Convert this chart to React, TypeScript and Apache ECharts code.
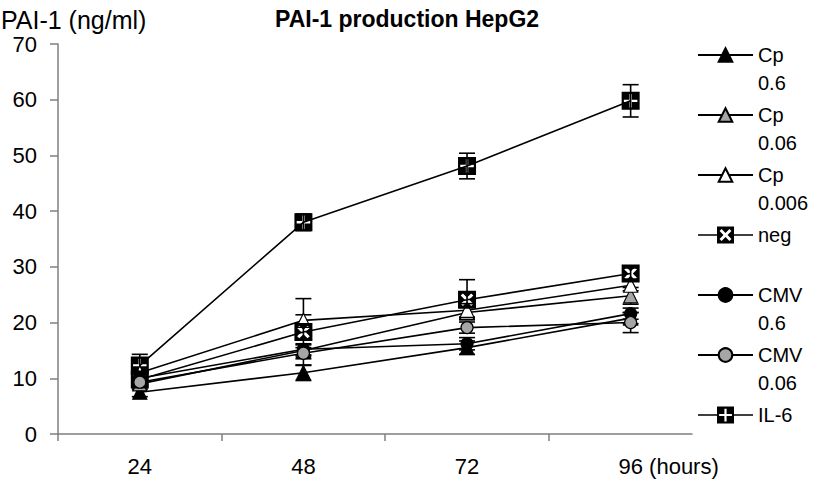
import React, { useEffect, useRef } from 'react';
import * as echarts from 'echarts';

// ---- data ----
const hours = [24, 48, 72, 96];
const yTicks = [0, 10, 20, 30, 40, 50, 60, 70];
const seriesNames = ['Cp 0.6', 'Cp 0.06', 'Cp 0.006', 'neg', 'CMV 0.6', 'CMV 0.06', 'IL-6'];

const cp06 = [7.5, 11, 15.5, 20.8];
const cp006 = [9, 15, 21.8, 24.8];
const cp0006 = [11, 20.4, 22.2, 26.7];
const neg = [9.8, 18.3, 24.1, 28.8];
const cmv06 = [10, 15.2, 16.2, 21.6];
const cmv006 = [9.3, 14.5, 19.1, 20];
const il6 = [12.3, 38, 48.1, 59.8];

const cp06Err = [0.8, 1.4, 1.2, 1];
const cp006Err = [1, 1, 1, 1.5];
const cp0006Err = [1, 1, 1.2, 1];
const negErr = [1, 6, 3.6, 1];
const cmv06Err = [0.8, 1, 1.1, 1];
const cmv006Err = [0.8, 1, 1, 1.8];
const il6Err = [2, 1.5, 2.3, 2.9];

const allValues = [cp06, cp006, cp0006, neg, cmv06, cmv006, il6];
const allErrors = [cp06Err, cp006Err, cp0006Err, negErr, cmv06Err, cmv006Err, il6Err];

// ---- symbols (20x20 unit square with a white cut-out) ----
const d = 2.4;
const xHole = [
  [3 + d, 3], [10, 10 - d], [17 - d, 3], [17, 3 + d], [10 + d, 10], [17, 17 - d],
  [17 - d, 17], [10, 10 + d], [3 + d, 17], [3, 17 - d], [10 - d, 10], [3, 3 + d],
].reverse();
const a = 1.3;
const plusHole = [
  [10 - a, 2.5], [10 + a, 2.5], [10 + a, 10 - a], [17.5, 10 - a], [17.5, 10 + a], [10 + a, 10 + a],
  [10 + a, 17.5], [10 - a, 17.5], [10 - a, 10 + a], [2.5, 10 + a], [2.5, 10 - a], [10 - a, 10 - a],
].reverse();
const poly = (pts: number[][], sx = 1, ox = 0) =>
  'M' + pts.map((p) => +(p[0] * sx + ox).toFixed(2) + ' ' + +(p[1] * sx).toFixed(2)).join(' L') + ' Z';
const squareX = 'path://M0 0 L20 0 L20 20 L0 20 Z ' + poly(xHole);
const squarePlus = 'path://M0 0 L20 0 L20 20 L0 20 Z ' + poly(plusHole);

// legend icons: line + 17px square with cut-out, in a 55x17 box
const legendIcon = (hole: number[][]) =>
  'path://M0 7.7 L19 7.7 L19 9.3 L0 9.3 Z M36 7.7 L55 7.7 L55 9.3 L36 9.3 Z M19 0 L36 0 L36 17 L19 17 Z ' +
  poly(hole, 17 / 20, 19);

const FONT = '"Liberation Sans", Arial, sans-serif';

const markerStyles = [
  { symbol: 'triangle', size: 14, fill: '#000000', border: 1.2 },
  { symbol: 'triangle', size: 14, fill: '#a6a6a6', border: 1.2 },
  { symbol: 'triangle', size: 14, fill: '#ffffff', border: 1.2 },
  { symbol: squareX, size: 18, fill: '#000000', border: 0, icon: legendIcon(xHole) },
  { symbol: 'circle', size: 12, fill: '#000000', border: 1.2 },
  { symbol: 'circle', size: 12, fill: '#a6a6a6', border: 1.2 },
  { symbol: squarePlus, size: 18, fill: '#000000', border: 0, icon: legendIcon(plusHole) },
];

export default function App() {
  const ref = useRef<HTMLDivElement>(null);

  useEffect(() => {
    if (!ref.current) return;
    const chart = echarts.init(ref.current, null, { renderer: 'svg' });

    const lineSeries = seriesNames.map((name, i) => ({
      type: 'line',
      name,
      data: hours.map((h, j) => [h, allValues[i][j]]),
      symbol: markerStyles[i].symbol,
      symbolSize: markerStyles[i].size,
      showSymbol: true,
      z: 3,
      lineStyle: { color: '#000', width: 1.6 },
      itemStyle: {
        color: markerStyles[i].fill,
        borderColor: '#000',
        borderWidth: markerStyles[i].border,
        opacity: 1,
      },
      emphasis: { disabled: true },
    }));

    const errSeries = seriesNames.map((name, i) => ({
      type: 'custom',
      name: 'err-' + name,
      z: 2,
      data: hours.map((h, j) => [h, allValues[i][j], allErrors[i][j]]),
      encode: { x: 0, y: 1 },
      renderItem: (params: any, api: any) => {
        const x = api.value(0);
        const v = api.value(1);
        const e = api.value(2);
        const top = api.coord([x, v + e]);
        const bot = api.coord([x, v - e]);
        const w = 8;
        const st = { stroke: '#000', lineWidth: 1.6 };
        return {
          type: 'group',
          children: [
            { type: 'line', shape: { x1: top[0], y1: top[1], x2: bot[0], y2: bot[1] }, style: st },
            { type: 'line', shape: { x1: top[0] - w, y1: top[1], x2: top[0] + w, y2: top[1] }, style: st },
            { type: 'line', shape: { x1: bot[0] - w, y1: bot[1], x2: bot[0] + w, y2: bot[1] }, style: st },
          ],
        };
      },
    }));

    const axisGray = '#7f7f7f';

    chart.setOption({
      animation: false,
      backgroundColor: '#ffffff',
      textStyle: { fontFamily: FONT },
      title: [
        {
          text: 'PAI-1 production HepG2',
          left: 275,
          top: 7,
          padding: 0,
          textStyle: { fontSize: 23, fontWeight: 'bold', color: '#000', fontFamily: FONT },
        },
        {
          text: 'PAI-1 (ng/ml)',
          left: 1,
          top: 7,
          padding: 0,
          textStyle: { fontSize: 25, fontWeight: 'normal', color: '#000', fontFamily: FONT },
        },
      ],
      legend: {
        orient: 'vertical',
        left: 697,
        top: 13,
        padding: 0,
        itemGap: -24,
        itemWidth: 55,
        itemHeight: 17,
        selectedMode: false,
        data: seriesNames.map((name, i) =>
          markerStyles[i].icon ? { name, icon: markerStyles[i].icon } : { name }
        ),
        formatter: (name: string) => {
          const parts = name.split(' ');
          return parts.length > 1 ? '\n' + parts[0] + '\n' + parts[1] : '\n' + name + '\n ';
        },
        textStyle: {
          fontSize: 20,
          lineHeight: 28,
          color: '#000',
          fontFamily: FONT,
        },
      },
      grid: { left: 58, right: 121, top: 44, bottom: 49 },
      xAxis: {
        type: 'value',
        min: 12,
        max: 105,
        splitLine: { show: false },
        axisLine: { show: true, lineStyle: { color: axisGray, width: 1.5 } },
        axisTick: { show: true, length: 7, lineStyle: { color: axisGray, width: 1.5 }, customValues: [12, 36, 60, 84] },
        axisLabel: {
          customValues: hours,
          margin: 21,
          fontSize: 22,
          color: '#000',
          fontFamily: FONT,
          formatter: (v: number) => (v === 96 ? '{n|96}{h| (hours)}' : String(v)),
          rich: {
            n: { fontSize: 22, color: '#000', fontFamily: FONT, padding: [0, 0, 0, 76] },
            h: { fontSize: 22, color: '#000', fontFamily: FONT },
          },
        },
      },
      yAxis: {
        type: 'value',
        min: 0,
        max: 70,
        interval: 10,
        splitLine: { show: false },
        axisLine: { show: true, lineStyle: { color: axisGray, width: 1.5 } },
        axisTick: { show: true, length: 8, lineStyle: { color: axisGray, width: 1.5 }, customValues: yTicks },
        axisLabel: { margin: 21, fontSize: 22, color: '#000', fontFamily: FONT, customValues: yTicks },
      },
      series: [...errSeries, ...lineSeries],
    });

    return () => chart.dispose();
  }, []);

  return (
    <div
      ref={ref}
      style={{ position: 'fixed', left: 0, top: 0, width: 813, height: 483, background: '#fff' }}
    />
  );
}
